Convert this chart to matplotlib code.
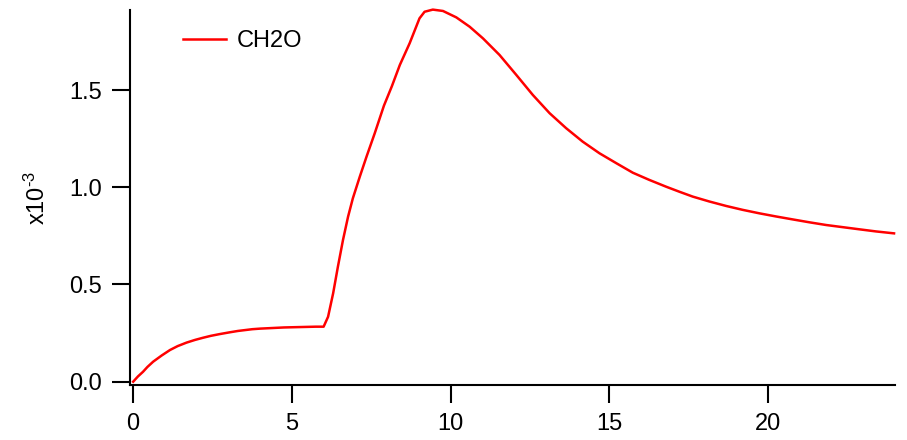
import matplotlib
matplotlib.use('Agg')
import matplotlib.pyplot as plt
import numpy as np

# time axis and CH2O values (units of 1e-3)
time = [0.0, 0.15, 0.31, 0.45, 0.63, 0.9, 1.16, 1.4, 1.68, 1.95, 2.2, 2.45, 2.73,
        3.04, 3.3, 3.5, 3.75, 4.0, 4.25, 4.5, 4.75, 5.0, 5.25, 5.5, 5.75, 6.0,
        6.14, 6.3, 6.45, 6.61, 6.77, 6.92, 7.14, 7.35, 7.61, 7.9, 8.15, 8.4, 8.71,
        9.02, 9.18, 9.44, 9.76, 10.18, 10.6, 11.02, 11.54, 12.07, 12.59, 13.12,
        13.64, 14.16, 14.69, 15.22, 15.74, 16.26, 16.79, 17.21, 17.63, 18.15,
        18.68, 19.2, 19.73, 20.25, 20.77, 21.3, 21.83, 22.35, 22.87, 23.4, 23.97]
ch2o = [0.0, 0.027, 0.051, 0.076, 0.103, 0.135, 0.163, 0.183, 0.201, 0.215, 0.226,
        0.236, 0.245, 0.254, 0.261, 0.265, 0.27, 0.273, 0.275, 0.277, 0.279, 0.28,
        0.281, 0.282, 0.283, 0.283,
        0.334, 0.455, 0.592, 0.729, 0.849, 0.943, 1.055, 1.157, 1.278, 1.42, 1.52,
        1.629, 1.741, 1.869, 1.903, 1.914, 1.907, 1.874, 1.826, 1.766, 1.681,
        1.578, 1.475, 1.381, 1.304, 1.235, 1.175, 1.124, 1.075, 1.038, 1.003,
        0.977, 0.952, 0.927, 0.904, 0.884, 0.866, 0.85, 0.835, 0.82, 0.806,
        0.795, 0.784, 0.773, 0.763]

xticks = [0, 5, 10, 15, 20]
yticks = [0.0, 0.5, 1.0, 1.5]

plt.rcParams['font.family'] = ['Liberation Sans', 'DejaVu Sans']
plt.rcParams['mathtext.fontset'] = 'custom'
plt.rcParams['mathtext.rm'] = 'Liberation Sans'
plt.rcParams['mathtext.default'] = 'regular'

fig = plt.figure(figsize=(9.07, 4.4), dpi=100)
ax = fig.add_axes([130/907, 55/440, 765/907, 375/440])

ax.plot(time, ch2o, color='#ff0000', lw=1.8, label='CH2O', clip_on=False)

ax.set_xlim(-0.1, 24)
ax.set_ylim(-0.017, 1.912)
ax.set_xticks(xticks)
ax.set_xticklabels([str(t) for t in xticks])
ax.set_yticks(yticks)
ax.set_yticklabels(['%.1f' % t for t in yticks])

for s in ['top', 'right']:
    ax.spines[s].set_visible(False)
for s in ['left', 'bottom']:
    ax.spines[s].set_linewidth(1.5)
ax.tick_params(direction='out', length=13, width=1.5, labelsize=17, pad=7)

ax.set_ylabel(r'x10$^{\text{-3}}$', fontsize=17)
ax.yaxis.set_label_coords(-0.105, 0.5)

ax.legend(loc='center left', bbox_to_anchor=(183/907, 1 - 41/440),
          bbox_transform=fig.transFigure, frameon=False, fontsize=17,
          handlelength=1.82, handletextpad=0.47, borderpad=0, borderaxespad=0)

fig.savefig('out.png', dpi=100)
